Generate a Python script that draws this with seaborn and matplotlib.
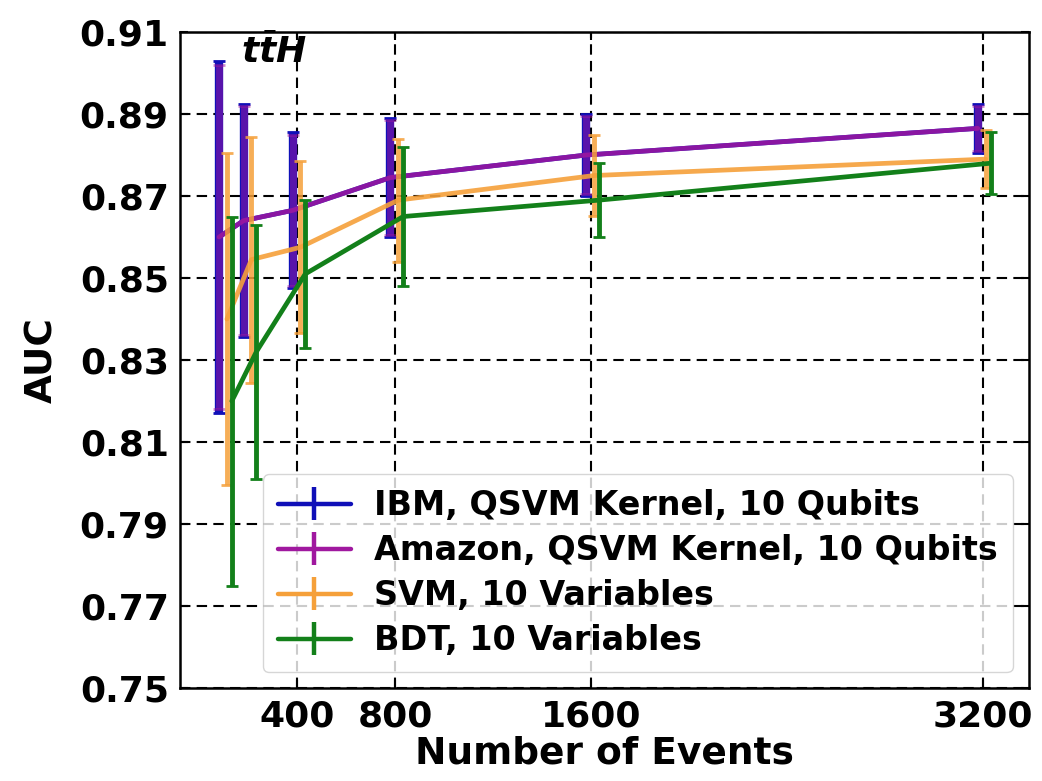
import numpy as np
import pandas as pd
import matplotlib
matplotlib.use("Agg")
import matplotlib.pyplot as plt
import seaborn as sns

# ---------------------------------------------------------
# Daten
# ---------------------------------------------------------
n_events = [100, 200, 400, 800, 1600, 3200]
x_ticks = [400, 800, 1600, 3200]
y_ticks = [0.75, 0.77, 0.79, 0.81, 0.83, 0.85, 0.87, 0.89, 0.91]

methods = ["IBM, QSVM Kernel, 10 Qubits",
           "Amazon, QSVM Kernel, 10 Qubits",
           "SVM, 10 Variables",
           "BDT, 10 Variables"]

ibm_auc = [0.860, 0.864, 0.8665, 0.8745, 0.880, 0.8865]
ibm_err = [0.043, 0.0285, 0.019, 0.0145, 0.010, 0.006]
amazon_auc = [0.860, 0.864, 0.8665, 0.8745, 0.880, 0.8865]
amazon_err = [0.042, 0.028, 0.0185, 0.014, 0.0095, 0.0055]
svm_auc = [0.840, 0.8545, 0.8575, 0.869, 0.875, 0.879]
svm_err = [0.0405, 0.030, 0.021, 0.015, 0.0098, 0.007]
bdt_auc = [0.820, 0.832, 0.851, 0.865, 0.869, 0.878]
bdt_err = [0.045, 0.031, 0.018, 0.017, 0.009, 0.0075]

# ---------------------------------------------------------
# Stil
# ---------------------------------------------------------
colors = ["#1010b8", "#a0189f", "#f5a03a", "#13801a"]
offsets = [-20, -20, 12, 32]       # leichte Verschiebung in x, wie im Original
line_alpha = [1.0, 0.85, 0.9, 1.0]
bar_alpha = [1.0, 0.5, 0.85, 1.0]
elw = [6, 5, 3.5, 3.5]

sns.set_style("ticks")
plt.rcParams["font.family"] = ["DejaVu Sans"]
plt.rcParams["font.weight"] = "bold"
plt.rcParams["text.color"] = "black"
plt.rcParams["axes.labelcolor"] = "black"
plt.rcParams["xtick.color"] = "black"
plt.rcParams["ytick.color"] = "black"
plt.rcParams["mathtext.fontset"] = "custom"
plt.rcParams["mathtext.it"] = "DejaVu Sans:italic:bold"
plt.rcParams["mathtext.rm"] = "DejaVu Sans:bold"

auc_all = [ibm_auc, amazon_auc, svm_auc, bdt_auc]
err_all = [ibm_err, amazon_err, svm_err, bdt_err]

rows = []
for m, off, auc, err in zip(methods, offsets, auc_all, err_all):
    for n, a, e in zip(n_events, auc, err):
        rows.append({"method": m, "events": n + off, "auc": a, "err": e})
df = pd.DataFrame(rows)

# ---------------------------------------------------------
# Plot
# ---------------------------------------------------------
fig = plt.figure(figsize=(10.42, 7.81), dpi=100)
ax = fig.add_axes([0.1727, 0.119, 0.815, 0.840])

handles = []
for i, m in enumerate(methods):
    sub = df[df["method"] == m]
    sns.lineplot(data=sub, x="events", y="auc", color=colors[i], linewidth=3.4,
                 alpha=line_alpha[i], ax=ax, legend=False, zorder=3 + i)
    ax.errorbar(sub["events"], sub["auc"], yerr=sub["err"], fmt="none",
                ecolor=colors[i], elinewidth=elw[i], capsize=4, capthick=2,
                alpha=bar_alpha[i], zorder=3 + i)
    # Legendeneintrag im Errorbar-Stil
    h = ax.errorbar([], [], yerr=[], fmt="-", color=colors[i], linewidth=3.2,
                    elinewidth=3.2, capsize=4, capthick=2, label=m)
    handles.append(h)

ax.set_xlim(-80, 3390)
ax.set_ylim(0.75, 0.91)
ax.set_xticks(x_ticks)
ax.set_xticklabels([str(t) for t in x_ticks])
ax.set_yticks(y_ticks)
ax.set_yticklabels([f"{t:.2f}" for t in y_ticks])

ax.grid(True, color="black", linestyle=(0, (5, 3)), linewidth=1.5)
ax.set_axisbelow(True)
for s in ax.spines.values():
    s.set_linewidth(1.8)
    s.set_color("black")
ax.tick_params(direction="in", length=6, width=1.5, top=True, right=True,
               labelsize=26, pad=8)
for lab in ax.get_xticklabels() + ax.get_yticklabels():
    lab.set_fontweight("bold")

ax.set_xlabel("Number of Events", fontsize=27, fontweight="bold", labelpad=2)
ax.set_ylabel("AUC", fontsize=27, fontweight="bold", labelpad=14)

ax.text(0.072, 0.942, r"$t\bar{t}H$", transform=ax.transAxes, fontsize=26,
        ha="left", va="bottom")

leg = ax.legend(handles=handles, loc="lower right", bbox_to_anchor=(0.981, 0.024),
                borderaxespad=0, labelspacing=0.36, handlelength=2.2,
                handletextpad=0.7, borderpad=0.45, framealpha=0.8,
                prop={"weight": "bold", "size": 24})

fig.savefig("out.png", dpi=100)
print("[INFO] Diagramm gespeichert.")
